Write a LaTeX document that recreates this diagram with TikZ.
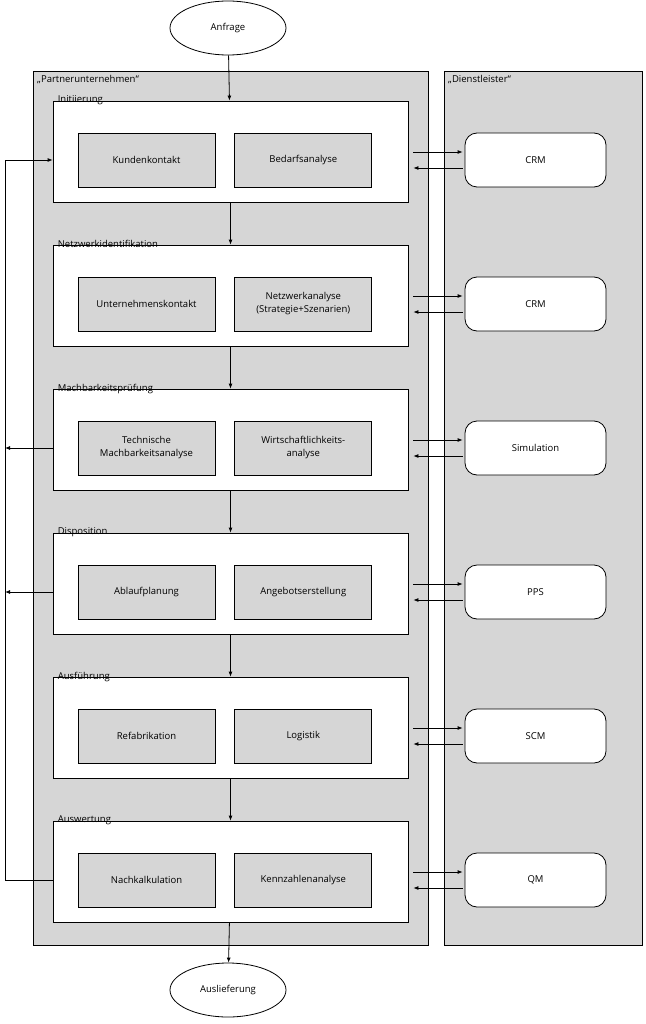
\documentclass[tikz,border=0pt]{standalone}
\usepackage{fontspec}
\setmainfont{Open Sans}
\usetikzlibrary{positioning}
\usetikzlibrary{calc}
\usetikzlibrary{arrows.meta}
\usetikzlibrary{shapes.geometric}
\definecolor{panel}{RGB}{214,214,214}
\tikzset{
  phase/.style={draw, fill=white, line width=0.8pt, minimum width=355pt, minimum height=101pt},
  task/.style={draw, fill=panel, line width=0.8pt, minimum width=137pt, minimum height=54pt, align=center, font=\fontsize{9.5}{13}\selectfont},
  tool/.style={draw, fill=white, rounded corners=12pt, line width=0.8pt, minimum width=141pt, minimum height=54pt, font=\fontsize{9.5}{13}\selectfont},
  title/.style={anchor=north west, inner sep=0pt, font=\fontsize{9.5}{13}\selectfont},
  terminal/.style={draw, ellipse, fill=white, line width=0.8pt, minimum width=116pt, minimum height=54pt, font=\fontsize{9.5}{13}\selectfont},
  flow/.style={-{Latex[length=5pt,width=4pt]}, line width=0.8pt},
}
\begin{document}
\begin{tikzpicture}[x=1pt,y=-1pt]
        \useasboundingbox (0,0) rectangle (645,1024);
        % panels %
        \draw[fill=panel, line width=0.8pt] (33,71) rectangle (428,945);
        \draw[fill=panel, line width=0.8pt] (444,71) rectangle (642,945);
        \node[title] at (37,75) {„Partnerunternehmen“};
        \node[title] at (448,75) {„Dienstleister“};

        % nodes %
        \node[terminal] (in) at (228,28) {Anfrage};
        \node[terminal] (out) at (228,990) {Auslieferung};

        \node[phase] (p1) at (230.5,151.5) {};
        \node[phase] (p2) at (230.5,295.5) {};
        \node[phase] (p3) at (230.5,439.5) {};
        \node[phase] (p4) at (230.5,583.5) {};
        \node[phase] (p5) at (230.5,727.5) {};
        \node[phase] (p6) at (230.5,871.5) {};

        \node[title] at ($(p1.north west)+(5,-5)$) {Initiierung};
        \node[title] at ($(p2.north west)+(5,-5)$) {Netzwerkidentifikation};
        \node[title] at ($(p3.north west)+(5,-5)$) {Machbarkeitsprüfung};
        \node[title] at ($(p4.north west)+(5,-5)$) {Disposition};
        \node[title] at ($(p5.north west)+(5,-5)$) {Ausführung};
        \node[title] at ($(p6.north west)+(5,-5)$) {Auswertung};

        \node[task] (l1) at ($(p1)+(-84,8.5)$) {Kundenkontakt};
        \node[task, right=19 of l1] (r1) {Bedarfsanalyse};
        \node[task] (l2) at ($(p2)+(-84,8.5)$) {Unternehmenskontakt};
        \node[task, right=19 of l2] (r2) {Netzwerkanalyse\\(Strategie+Szenarien)};
        \node[task] (l3) at ($(p3)+(-84,8.5)$) {Technische\\Machbarkeitsanalyse};
        \node[task, right=19 of l3] (r3) {Wirtschaftlichkeits-\\analyse};
        \node[task] (l4) at ($(p4)+(-84,8.5)$) {Ablaufplanung};
        \node[task, right=19 of l4] (r4) {Angebotserstellung};
        \node[task] (l5) at ($(p5)+(-84,8.5)$) {Refabrikation};
        \node[task, right=19 of l5] (r5) {Logistik};
        \node[task] (l6) at ($(p6)+(-84,8.5)$) {Nachkalkulation};
        \node[task, right=19 of l6] (r6) {Kennzahlenanalyse};

        \node[tool] (s1) at (535.5,160) {CRM};
        \node[tool] (s2) at (535.5,304) {CRM};
        \node[tool] (s3) at (535.5,448) {Simulation};
        \node[tool] (s4) at (535.5,592) {PPS};
        \node[tool] (s5) at (535.5,736) {SCM};
        \node[tool] (s6) at (535.5,880) {QM};

        \coordinate (loop) at (5,0);

        % edges %
        \draw[flow] (in) -- (p1);
        \draw[flow] (p1) -- (p2);
        \draw[flow] (p2) -- (p3);
        \draw[flow] (p3) -- (p4);
        \draw[flow] (p4) -- (p5);
        \draw[flow] (p5) -- (p6);
        \draw[flow] (p6) -- (out);
        \foreach \i in {1,...,6} {
          \draw[flow] ($(s\i.west -| p\i.east)+(5,-8)$) -- ($(s\i.west)+(-2,-8)$);
          \draw[flow] ($(s\i.west)+(-2,8)$) -- ($(s\i.west -| p\i.east)+(5,8)$);
        }
        \draw[flow] (p6.west |- l6) -| (loop |- l1) -- (p1.west |- l1);
        \draw[flow] (p3.west |- l3) -- (loop |- l3);
        \draw[flow] (p4.west |- l4) -- (loop |- l4);
      \end{tikzpicture}
\end{document}
